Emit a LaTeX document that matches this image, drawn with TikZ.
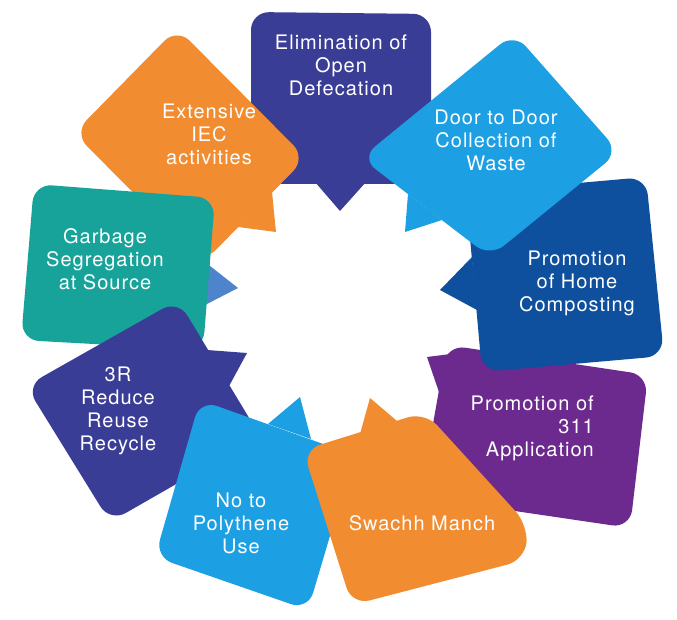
\documentclass[tikz,border=0pt]{standalone}
\usepackage{fontspec}
\setmainfont{TeX Gyre Heros}[LetterSpace=5]
\usetikzlibrary{positioning}
\definecolor{indigo}{RGB}{58,61,150}
\definecolor{skyblue}{RGB}{28,160,227}
\definecolor{navy}{RGB}{14,79,158}
\definecolor{plum}{RGB}{108,42,142}
\definecolor{tangerine}{RGB}{242,140,48}
\definecolor{teal}{RGB}{23,163,154}
\definecolor{steel}{RGB}{78,132,204}
\tikzset{bubbletext/.style={text=white, align=center, inner sep=0pt,
  font=\fontsize{20}{23}\selectfont}}

\begin{document}
\begin{tikzpicture}[x=1pt,y=-1pt,rounded corners=18pt]
\fill[white,sharp corners] (0,0) rectangle (677,620);
\useasboundingbox (0,0) rectangle (677,620);
% Elimination of Open Defecation
\fill[indigo] (251,12) -- (431,14) -- (431,184) -- (251,184) -- cycle;
\fill[indigo,sharp corners] (315,182) -- (340,211) -- (366,182) -- cycle;
% Promotion of 311 Application
\fill[plum] (447,345) -- (648,375) -- (630,528) -- (420,497) -- cycle;
\fill[plum,sharp corners] (440,395) -- (427,357) -- (482,350) -- (458,372) -- cycle;
% Promotion of Home Composting
\fill[navy] (466,193) -- (646,177) -- (664,356) -- (482,372) -- cycle;
\fill[navy,sharp corners] (472,257) -- (440,290) -- (477,310) -- cycle;
% Door to Door Collection of Waste
\fill[skyblue] (514,33) -- (619,152) -- (490,257) -- (361,158) -- cycle;
\fill[skyblue,sharp corners] (408,194) -- (405,232) -- (442,220) -- cycle;
% Extensive IEC activities
\fill[tangerine] (177,28) -- (306,158) -- (203,263) -- (74,133) -- cycle;
\fill[tangerine,sharp corners] (272,192) -- (276,232) -- (238,227) -- cycle;
% Garbage Segregation at Source
\fill[steel,sharp corners] (205,262) -- (238,288) -- (205,305) -- cycle;
\fill[teal] (34,184) -- (215,198) -- (203,350) -- (21,340) -- cycle;
% 3R
\fill[indigo] (178,300) -- (260,436) -- (110,522) -- (26,386) -- cycle;
\fill[indigo,sharp corners] (207,350) -- (247,353) -- (228,388) -- cycle;
% No to Polythene Use
\fill[skyblue] (200,400) -- (354,455) -- (308,610) -- (155,557) -- cycle;
\fill[skyblue,sharp corners] (268,424) -- (300,397) -- (311,439) -- cycle;
% Swachh Manch
\fill[tangerine] (303,450) -- (425,412) -- (528,525) -- (525,560) -- (352,605) -- cycle;
\fill[tangerine,sharp corners] (360,434) -- (370,398) -- (397,421) -- cycle;

\node[bubbletext] (elim) at (341,65) {Elimination of\\Open\\Defecation};
\node[bubbletext] (door) at (496,140) {Door to Door\\Collection of\\Waste};
\node[bubbletext] (home) at (577,283) {Promotion\\of Home\\Composting};
\node[bubbletext,anchor=east,align=right] (app) at (594,428) {Promotion of\\311\\Application};
\node[bubbletext] (manch) at (422,523) {Swachh Manch};
\node[bubbletext] (poly) at (241,523) {No to\\Polythene\\Use};
\node[bubbletext] (threer) at (118,411) {3R\\Reduce\\Reuse\\Recycle};
\node[bubbletext] (garbage) at (105,259) {Garbage\\Segregation\\at Source};
\node[bubbletext] (iec) at (209,134) {Extensive\\IEC\\activities};
\end{tikzpicture}
\end{document}
